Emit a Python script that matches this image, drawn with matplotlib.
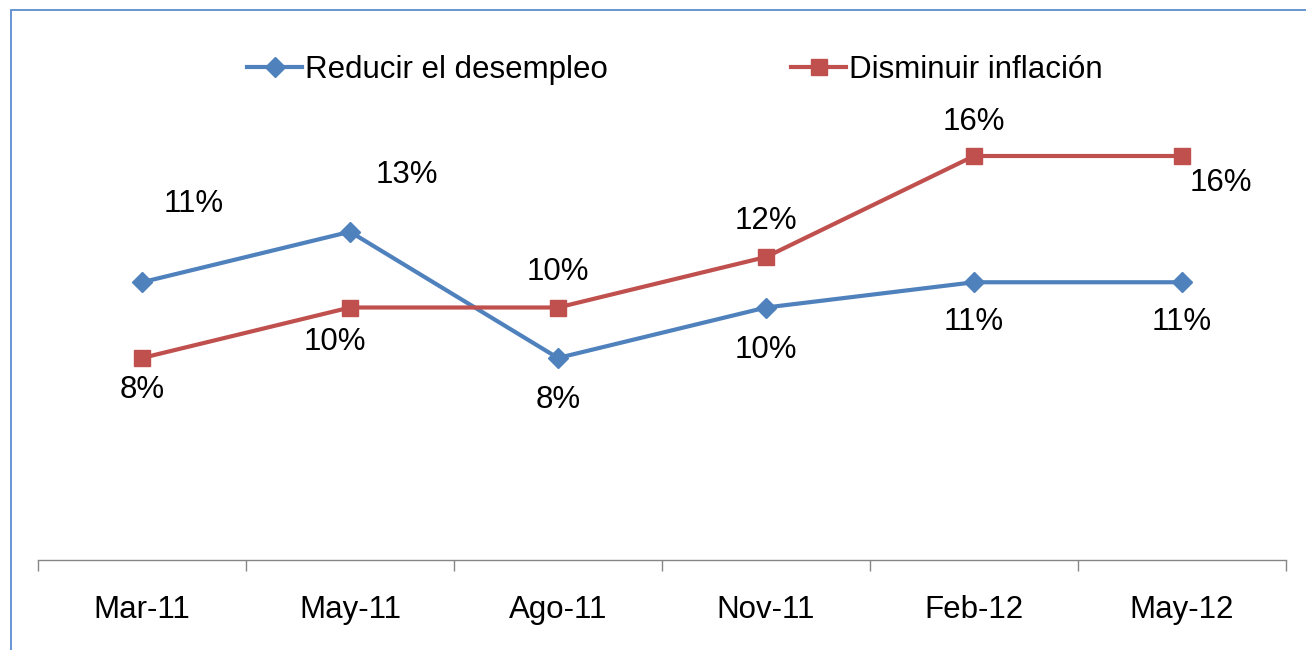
import matplotlib.pyplot as plt
from matplotlib.patches import Rectangle

plt.rcParams['font.family'] = ['Liberation Sans', 'DejaVu Sans']

fechas = ["Mar-11", "May-11", "Ago-11", "Nov-11", "Feb-12", "May-12"]
desempleo = [11, 13, 8, 10, 11, 11]
inflacion = [8, 10, 10, 12, 16, 16]

# label offsets in pixels (dx, dy), dy up positive
off_azul = [(52, 78), (57, 57), (0, -42), (0, -42), (0, -40), (0, -40)]
off_rojo = [(0, -32), (-15, -35), (0, 35), (0, 36), (0, 34), (39, -27)]

azul = '#4F81BD'
rojo = '#C0504D'
fs = 22.5

fig = plt.figure(figsize=(13.06, 6.5), dpi=100)
ax = fig.add_axes([38/1306, 1 - 560/650, (1286 - 38)/1306, (560 - 55)/650])

x = list(range(len(fechas)))
ax.plot(x, desempleo, color=azul, lw=3, marker='D', ms=10, label='Reducir el desempleo')
ax.plot(x, inflacion, color=rojo, lw=3, marker='s', ms=12, label='Disminuir inflación')

for xi, v, (dx, dy) in zip(x, desempleo, off_azul):
    ax.annotate(f"{v}%", (xi, v), xytext=(dx*0.72, dy*0.72), textcoords='offset points',
                ha='center', va='center', fontsize=fs, color='black')
for xi, v, (dx, dy) in zip(x, inflacion, off_rojo):
    ax.annotate(f"{v}%", (xi, v), xytext=(dx*0.72, dy*0.72), textcoords='offset points',
                ha='center', va='center', fontsize=fs, color='black')

ax.set_xlim(-0.5, 5.5)
ax.set_ylim(0, 20)
ax.set_yticks([])
for s in ['top', 'right', 'left']:
    ax.spines[s].set_visible(False)
ax.spines['bottom'].set_color('#868686')
ax.spines['bottom'].set_linewidth(1)
ax.set_xticks(x)
ax.set_xticklabels(fechas, fontsize=fs)
ax.tick_params(axis='x', which='major', length=0, pad=25)
ax.set_xticks([i - 0.5 for i in range(len(fechas) + 1)], minor=True)
ax.tick_params(axis='x', which='minor', length=8, color='#868686', width=1, direction='out')

fig.legend(loc='center', bbox_to_anchor=(675/1306, 1 - 70/650), ncol=2, frameon=False,
           fontsize=fs, handlelength=1.76, handletextpad=0.1, columnspacing=5.85)

fig.patches.append(Rectangle((11/1306, -0.1), 1.2, 1.1 - 10/650, transform=fig.transFigure,
                             fill=False, edgecolor='#5B8BD0', lw=1.3, clip_on=False))

fig.savefig('out.png', dpi=100)
